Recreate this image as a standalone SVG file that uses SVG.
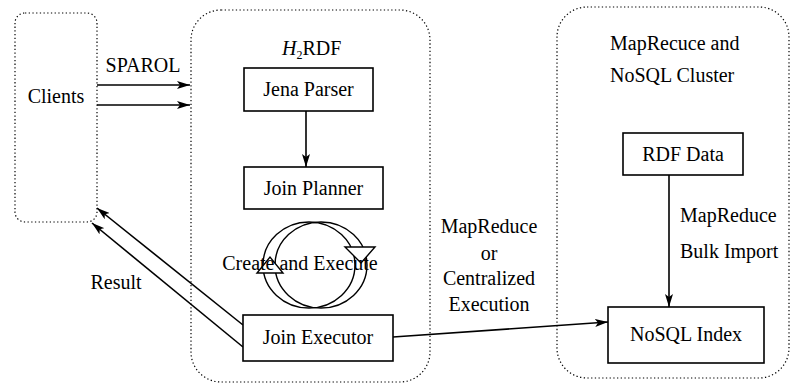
<svg xmlns="http://www.w3.org/2000/svg" width="791" height="384" viewBox="0 0 791 384">
  <style>
    .zone { fill: none; stroke: #000; stroke-width: 1.2; stroke-dasharray: 1.3 2.4; }
    .box { fill: #fff; stroke: #000; stroke-width: 1.6; }
    .mid { text-anchor: middle; }
    .edge { fill: none; stroke: #000; stroke-width: 1.6; }
    .ring { fill: none; stroke: #000; stroke-width: 1.4; }
    .head { fill: #fff; stroke: #000; stroke-width: 1.4; stroke-linejoin: miter; }
  </style>
  <defs>
    <marker id="arr" viewBox="0 0 13 8" refX="13" refY="4" markerWidth="13" markerHeight="8" markerUnits="userSpaceOnUse" orient="auto">
      <path d="M0,0 L13,4 L0,8 L3,4 z" fill="#000"/>
    </marker>
  </defs>

  <g font-family="'Liberation Serif', 'Times New Roman', serif" font-size="20" fill="#000">
    <!-- dotted zones -->
    <g id="zone-clients">
      <rect class="zone" x="15" y="13" width="82" height="209" rx="10"/>
      <text class="mid" x="56" y="103">Clients</text>
    </g>
    <g id="zone-h2rdf">
      <rect class="zone" x="191" y="10" width="239" height="372" rx="30"/>
      <text x="282" y="55"><tspan font-style="italic">H</tspan><tspan font-size="12" dy="4">2</tspan><tspan dy="-4">RDF</tspan></text>
    </g>
    <g id="zone-cluster">
      <rect class="zone" x="557" y="7" width="232" height="371" rx="30"/>
      <text x="610" y="50">MapRecuce and</text>
      <text x="610" y="82">NoSQL Cluster</text>
    </g>

    <!-- connectors -->
    <g id="connectors">
      <line class="edge" x1="97" y1="85" x2="190" y2="85" marker-end="url(#arr)"/>
      <line class="edge" x1="97" y1="105" x2="190" y2="105" marker-end="url(#arr)"/>
      <text class="mid" x="143" y="72">SPAROL</text>
      <line class="edge" x1="306" y1="111" x2="306" y2="167" marker-end="url(#arr)"/>
      <line class="edge" x1="243" y1="325" x2="97" y2="208" marker-end="url(#arr)"/>
      <line class="edge" x1="243" y1="347" x2="92" y2="223" marker-end="url(#arr)"/>
      <text class="mid" x="116" y="289">Result</text>
      <line class="edge" x1="393" y1="337" x2="608" y2="322" marker-end="url(#arr)"/>
      <text class="mid" x="489" y="233">MapReduce</text>
      <text class="mid" x="489" y="260">or</text>
      <text class="mid" x="489" y="285">Centralized</text>
      <text class="mid" x="489" y="311">Execution</text>
      <line class="edge" x1="669" y1="175" x2="669" y2="307" marker-end="url(#arr)"/>
      <text x="680" y="222">MapReduce</text>
      <text x="680" y="258">Bulk Import</text>
    </g>

    <!-- create / execute cycle: two offset rings with hollow heads -->
    <g id="cycle">
      <ellipse class="ring" cx="309" cy="265" rx="46" ry="43"/>
      <ellipse class="ring" cx="321" cy="265" rx="46" ry="43"/>
      <polygon class="head" points="345,247 375,247 361,263"/>
      <polygon class="head" points="257,273 283,273 270,257"/>
      <text class="mid" x="300" y="270">Create and Execute</text>
    </g>

    <!-- nodes -->
    <g id="jena-parser">
      <rect class="box" x="244" y="68" width="129" height="43"/>
      <text class="mid" x="308.5" y="96">Jena Parser</text>
    </g>
    <g id="join-planner">
      <rect class="box" x="244" y="167" width="139" height="42"/>
      <text class="mid" x="313.5" y="195">Join Planner</text>
    </g>
    <g id="join-executor">
      <rect class="box" x="243" y="315" width="150" height="46"/>
      <text class="mid" x="318" y="344">Join Executor</text>
    </g>
    <g id="rdf-data">
      <rect class="box" x="623" y="133" width="120" height="42"/>
      <text class="mid" x="683" y="161">RDF Data</text>
    </g>
    <g id="nosql-index">
      <rect class="box" x="608" y="307" width="156" height="56"/>
      <text class="mid" x="686" y="341">NoSQL Index</text>
    </g>
  </g>
</svg>
